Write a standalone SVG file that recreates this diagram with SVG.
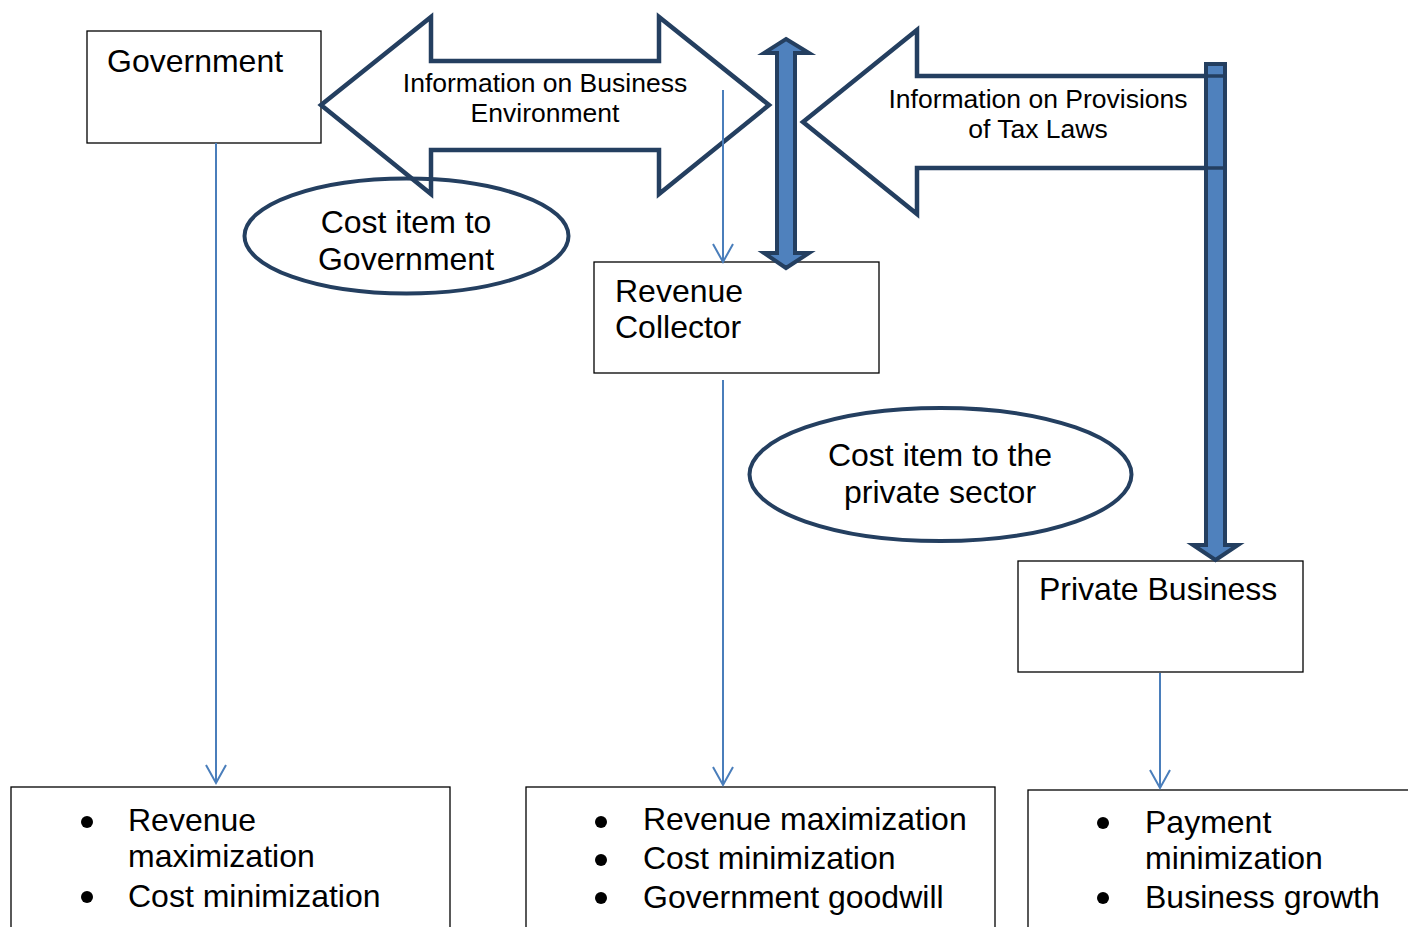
<svg xmlns="http://www.w3.org/2000/svg" width="1408" height="927" viewBox="0 0 1408 927">
<style>
.box{fill:#fff;stroke:#000;stroke-width:1.3}
.t{font-family:"Liberation Sans",Arial,sans-serif;font-size:32px;fill:#000}
.ts{font-family:"Liberation Sans",Arial,sans-serif;font-size:26.5px;fill:#000}
.big{fill:#fff;stroke:#243F60;stroke-width:4.5;stroke-linejoin:miter}
.bar{fill:#4F81BD;stroke:#243F60;stroke-width:4;stroke-linejoin:miter}
.ell{fill:none;stroke:#243F60;stroke-width:4}
.con{fill:none;stroke:#4A7EBB;stroke-width:2}
.bul{fill:#000}
</style>
<defs>
<marker id="vhead" markerUnits="userSpaceOnUse" markerWidth="24" markerHeight="24" viewBox="-20 -12 24 24" refX="0" refY="0" orient="auto">
<path d="M-18,-10 L0,0 L-18,10" fill="none" stroke="#4A7EBB" stroke-width="2"/>
</marker>
<clipPath id="clipE1"><rect x="230" y="170" width="360" height="100"/></clipPath>
</defs>
<rect width="1408" height="927" fill="#fff"/>

<g id="government">
<rect class="box" x="87" y="31" width="234" height="112"/>
<text class="t" x="107" y="72">Government</text>
</g>

<g id="revenue-collector">
<rect class="box" x="594" y="262" width="285" height="111"/>
<text class="t" x="615" y="302">Revenue</text>
<text class="t" x="615" y="338">Collector</text>
</g>

<g id="private-business">
<rect class="box" x="1018" y="561" width="285" height="111"/>
<text class="t" x="1039" y="600">Private Business</text>
</g>

<g id="gov-goals">
<rect class="box" x="11" y="787" width="439" height="200"/>
<circle class="bul" cx="87" cy="822" r="6"/>
<circle class="bul" cx="87" cy="897" r="6"/>
<text class="t" x="128" y="831">Revenue</text>
<text class="t" x="128" y="867">maximization</text>
<text class="t" x="128" y="907">Cost minimization</text>
</g>

<g id="collector-goals">
<rect class="box" x="526" y="787" width="469" height="200"/>
<circle class="bul" cx="601" cy="822" r="6"/>
<circle class="bul" cx="601" cy="860" r="6"/>
<circle class="bul" cx="601" cy="898" r="6"/>
<text class="t" x="643" y="830">Revenue maximization</text>
<text class="t" x="643" y="869">Cost minimization</text>
<text class="t" x="643" y="908">Government goodwill</text>
</g>

<g id="business-goals">
<rect class="box" x="1028" y="790" width="420" height="200"/>
<circle class="bul" cx="1103" cy="823" r="6"/>
<circle class="bul" cx="1103" cy="898" r="6"/>
<text class="t" x="1145" y="833">Payment</text>
<text class="t" x="1145" y="869">minimization</text>
<text class="t" x="1145" y="908">Business growth</text>
</g>

<g id="info-business-env">
<path class="big" d="M321,105 L431,17 L431,61 L659,61 L659,17 L769,105 L659,194 L659,150 L431,150 L431,194 Z"/>
<text class="ts" x="545" y="92" text-anchor="middle">Information on Business</text>
<text class="ts" x="545" y="122" text-anchor="middle">Environment</text>
</g>

<g id="cost-gov">
<ellipse class="ell" cx="406.5" cy="236" rx="162" ry="57.5"/>
<g clip-path="url(#clipE1)">
<text class="t" x="406" y="233" text-anchor="middle">Cost item to</text>
<text class="t" x="406" y="270" text-anchor="middle">Government</text>
</g>
</g>

<g id="cost-private">
<ellipse class="ell" cx="940.5" cy="474.5" rx="191" ry="66.5"/>
<text class="t" x="940" y="466" text-anchor="middle">Cost item to the</text>
<text class="t" x="940" y="503" text-anchor="middle">private sector</text>
</g>

<g id="info-tax-laws">
<path class="big" d="M803,122 L917,30 L917,76 L1222,76 L1222,168 L917,168 L917,214 Z"/>
<text class="ts" x="1038" y="108" text-anchor="middle">Information on Provisions</text>
<text class="ts" x="1038" y="138" text-anchor="middle">of Tax Laws</text>
</g>

<g id="connectors">
<path class="bar" d="M786,39 L809,53 L795,53 L795,253 L809,253 L786,268 L764,253 L777,253 L777,53 L764,53 Z"/>
<path class="bar" d="M1206,64 L1225,64 L1225,545 L1238,545 L1215.5,560 L1193,545 L1206,545 Z"/>
<path d="M1206,76 L1225,76 M1206,168 L1225,168" stroke="#243F60" stroke-width="3.5"/>
<path class="con" d="M216,143 L216,783" marker-end="url(#vhead)"/>
<path class="con" d="M723,90 L723,262" marker-end="url(#vhead)"/>
<path class="con" d="M723,380 L723,785" marker-end="url(#vhead)"/>
<path class="con" d="M1160,673 L1160,788" marker-end="url(#vhead)"/>
</g>
</svg>
